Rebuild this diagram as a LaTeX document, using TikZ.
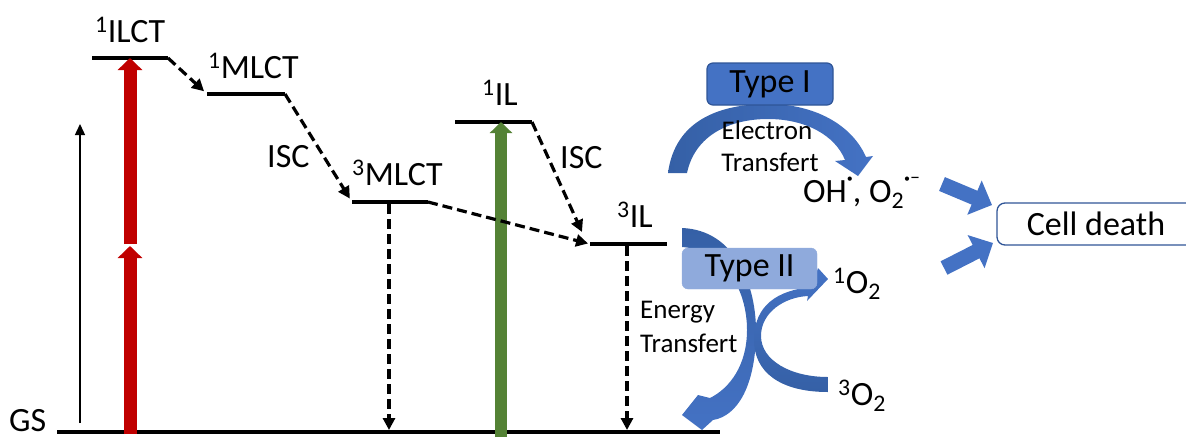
\documentclass[tikz,border=0pt]{standalone}
\usepackage{fontspec}
\setmainfont{Carlito}
\usetikzlibrary{arrows.meta,calc}
\definecolor{cred}{HTML}{C00000}
\definecolor{cgreen}{HTML}{548235}
\definecolor{cblue}{HTML}{4472C4}
\definecolor{cdark}{HTML}{2F5597}
\definecolor{clight}{HTML}{8FAADC}
\definecolor{cmid}{HTML}{3560A6}
\newcommand{\rdot}{\raisebox{20pt}{\fontsize{12}{12}\selectfont •}}
\newcommand{\rdash}{\raisebox{19pt}{\fontsize{20}{20}\selectfont –}}
\begin{document}
\begin{tikzpicture}[x=1pt,y=-1pt,
  level/.style={line width=4.8pt},
  lab/.style={font=\fontsize{34}{40}\selectfont, inner sep=0pt},
  small/.style={font=\fontsize{27}{32}\selectfont, inner sep=0pt},
  dashedarrow/.style={line width=3.2pt, dash pattern=on 10pt off 5pt, -{Triangle[length=12pt,width=12pt]}},
  thinarrow/.style={line width=1.4pt, -{Triangle[length=11pt,width=10pt]}},
  redarrow/.style={cred, line width=13pt, -{Triangle[length=12pt,width=24pt]}},
  greenarrow/.style={cgreen, line width=12pt, -{Triangle[length=11pt,width=22pt]}},
  blockarrow/.style={cblue, line width=15pt, -{Triangle[length=19pt,width=36pt]}},
  typebox/.style={rounded corners=6pt, minimum height=42pt, inner sep=0pt, font=\fontsize{34}{40}\selectfont}
]
\useasboundingbox (0,0) rectangle (1186,437);

% ground state
\coordinate (gsL) at (57,432); \coordinate (gsR) at (720,432);
\draw[level] (gsL) -- (gsR);
\node[lab, anchor=base west] (gs) at (9,431) {GS};

% levels
\coordinate (ilctL) at (92,58);   \coordinate (ilctR) at (168,58);
\coordinate (mlctAL) at (207,94); \coordinate (mlctAR) at (285,94);
\coordinate (mlctBL) at (352,202);\coordinate (mlctBR) at (428,202);
\coordinate (ilAL) at (455,122);  \coordinate (ilAR) at (532,122);
\coordinate (ilBL) at (590,244);  \coordinate (ilBR) at (667,244);
\foreach \a/\b in {ilctL/ilctR, mlctAL/mlctAR, mlctBL/mlctBR, ilAL/ilAR, ilBL/ilBR}
  \draw[level] (\a) -- (\b);

% level labels
\node[lab, anchor=base west] (lilct) at (95,42) {\textsuperscript{1}ILCT};
\node[lab, anchor=base west] (lmlctA) at (208,78) {\textsuperscript{1}MLCT};
\node[lab, anchor=base west] (lmlctB) at (352,185) {\textsuperscript{3}MLCT};
\node[lab, anchor=base west] (lilA) at (482,105) {\textsuperscript{1}IL};
\node[lab, anchor=base west] (lilB) at (617,227) {\textsuperscript{3}IL};
\node[lab, anchor=base west] (isc1) at (267,167) {ISC};
\node[lab, anchor=base west] (isc2) at (560,168) {ISC};

% thin arrow
\coordinate (thinS) at (80,423); \coordinate (thinE) at (80,124);
\draw[thinarrow] (thinS) -- (thinE);

% red excitation arrows
\coordinate (redA) at (130,434); \coordinate (redB) at (130,246);
\coordinate (redC) at (130,244); \coordinate (redD) at (130,58);
\draw[redarrow] (redA) -- (redB);
\draw[redarrow] (redC) -- (redD);

% green excitation arrow
\coordinate (grA) at (501,437); \coordinate (grB) at (501,122);
\draw[greenarrow] (grA) -- (grB);

% dashed transitions
\coordinate (isc2end) at (582,232);
\draw[dashedarrow, shorten >=4pt] (ilctR) -- (mlctAL);
\draw[dashedarrow, shorten >=4pt] (mlctAR) -- (mlctBL);
\draw[dashedarrow, shorten >=2pt] (mlctBR) -- (ilBL);
\draw[dashedarrow] (ilAR) -- (isc2end);
\coordinate (mlctV) at (389,204); \coordinate (mlctG) at (389,430);
\coordinate (ilV) at (627,246);   \coordinate (ilG) at (627,430);
\draw[dashedarrow] (mlctV) -- (mlctG);
\draw[dashedarrow] (ilV) -- (ilG);

% Type I curved arrow
\path[left color=cmid, right color=cblue]
  (668,173) .. controls (675,120) and (720,104) .. (768,104)
  .. controls (815,104) and (852,125) .. (866,157)
  -- (873,156) -- (858,176) -- (835,161) -- (845,160)
  .. controls (835,135) and (805,119) .. (768,119)
  .. controls (730,119) and (695,135) .. (687,173) -- cycle;
\node[typebox, draw=cdark, fill=cblue, line width=1.2pt, minimum width=126pt] (t1) at (770,84) {Type I};
\node[small, anchor=base] (et1) at (767,139) {Electron};
\node[small, anchor=base] (et2) at (770,171) {Transfert};
\node[lab, anchor=base west] (ros) at (803,202) {OH\rdot, O\textsubscript{2}\rdot\rdash};

% Type II curved arrows
\path[top color=cmid, bottom color=cblue]
  (682,228) .. controls (735,230) and (757,285) .. (756,335)
  .. controls (755,385) and (738,416) .. (713,420)
  -- (702,430) -- (682,415) -- (698,395) -- (710,398)
  .. controls (730,388) and (747,365) .. (747,330)
  .. controls (747,290) and (725,250) .. (682,247) -- cycle;
\path[top color=cblue, bottom color=cmid]
  (828,392) .. controls (780,392) and (754,372) .. (754,340)
  .. controls (754,305) and (778,290) .. (812,287)
  -- (818,268) -- (828,279) -- (807,301) -- (808,296)
  .. controls (785,297) and (761,312) .. (761,336)
  .. controls (761,360) and (790,377) .. (828,377) -- cycle;
\node[typebox, draw=clight, fill=clight, minimum width=135pt, minimum height=41pt] (t2) at (749.5,268.5) {Type II};
\node[small, anchor=base west] (en1) at (640,318) {Energy};
\node[small, anchor=base west] (en2) at (640,352) {Transfert};
\node[lab, anchor=base west] (so) at (833,293) {\textsuperscript{1}O\textsubscript{2}};
\node[lab, anchor=base west] (to) at (838,405) {\textsuperscript{3}O\textsubscript{2}};

% cell death
\node[draw=cdark, rounded corners=8pt, line width=1.3pt, minimum width=198pt, minimum height=42pt, inner sep=0pt, font=\fontsize{34}{40}\selectfont] (cell) at (1096,224) {Cell death};
\coordinate (b1s) at (942,184); \coordinate (b1e) at (992,205);
\coordinate (b2s) at (944,268); \coordinate (b2e) at (993,243);
\draw[blockarrow] (b1s) -- (b1e);
\draw[blockarrow] (b2s) -- (b2e);
\end{tikzpicture}
\end{document}
